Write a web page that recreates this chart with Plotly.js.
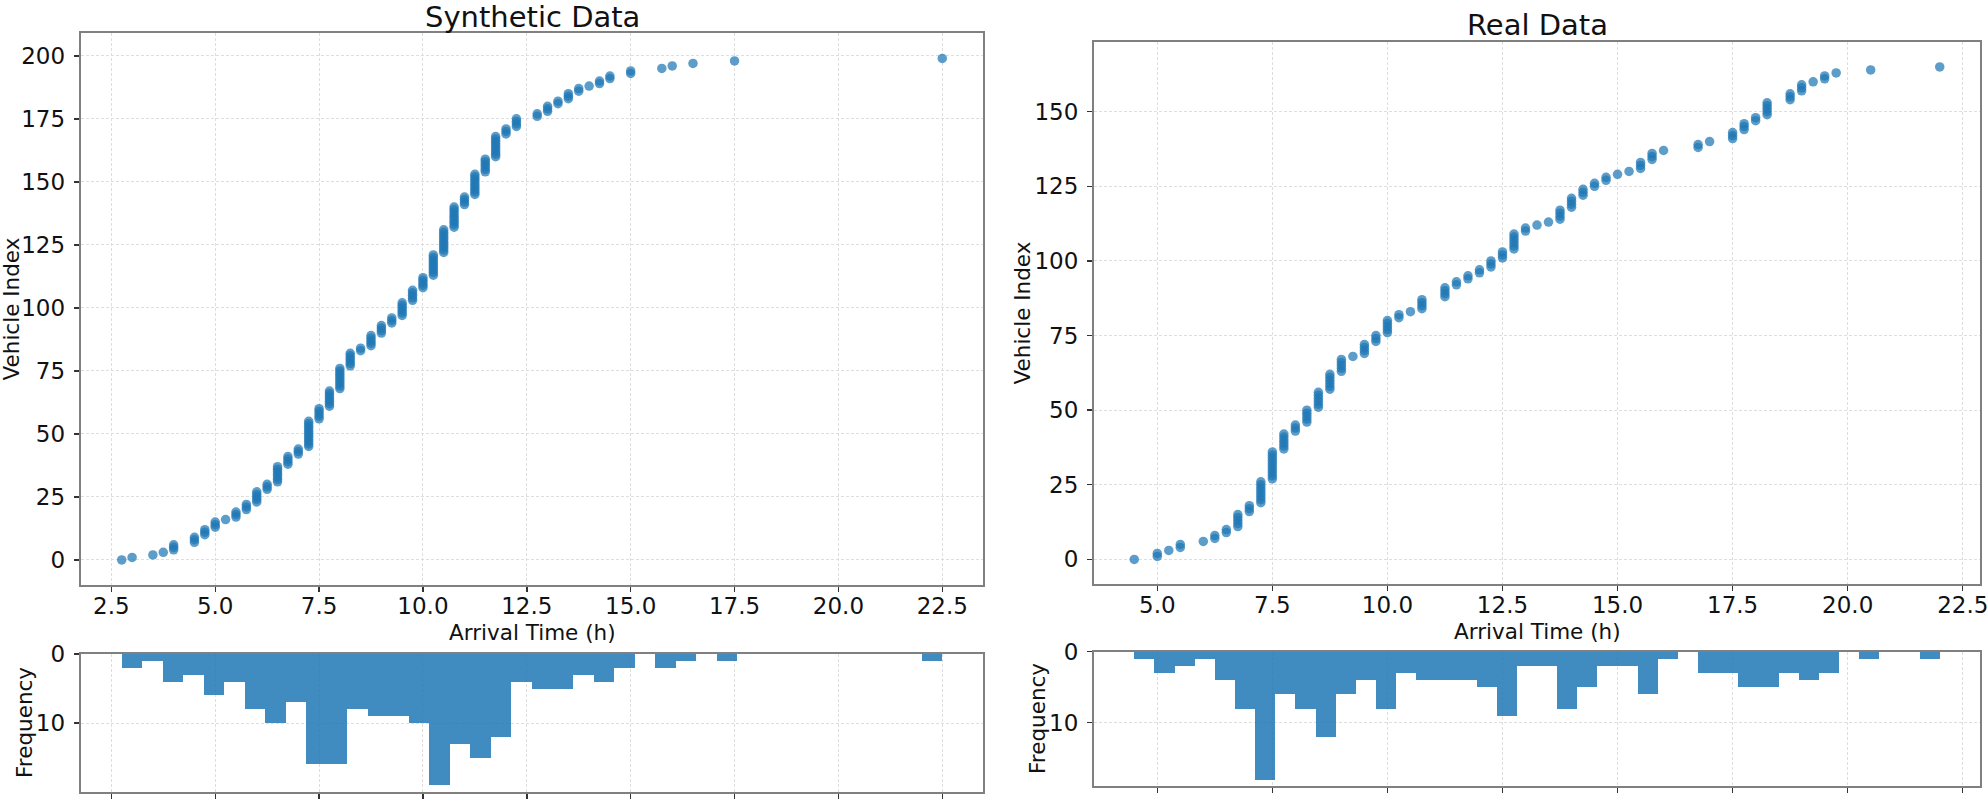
<!DOCTYPE html>
<html><head><meta charset="utf-8">
<script src="https://cdn.plot.ly/plotly-3.0.1.min.js"></script>
<style>html,body{margin:0;padding:0;background:#fff}#chart{width:1988px;height:806px}</style>
</head><body><div id="chart"></div>
<script>
// ---- data ----
// distinct arrival times (h) and how many vehicles arrive at each
const synthTimes  = [2.75,3.0,3.5,3.75,4.0,4.5,4.75,5.0,5.25,5.5,5.75,6.0,6.25,6.5,6.75,7.0,7.25,7.5,7.75,8.0,
                     8.25,8.5,8.75,9.0,9.25,9.5,9.75,10.0,10.25,10.5,10.75,11.0,11.25,11.5,11.75,12.0,12.25,12.75,13.0,13.25,
                     13.5,13.75,14.0,14.25,14.5,15.0,15.75,16.0,16.5,17.5,22.5];
const synthCounts = [1,1,1,1,3,3,3,3,1,3,3,5,3,7,4,3,11,5,7,9,
                     6,2,5,4,3,6,5,5,9,10,9,4,9,6,9,3,4,2,3,2,
                     3,2,1,2,2,2,1,1,1,1,1];
const realTimes   = [4.5,5.0,5.25,5.5,6.0,6.25,6.5,6.75,7.0,7.25,7.5,7.75,8.0,8.25,8.5,8.75,9.0,9.25,9.5,9.75,
                     10.0,10.25,10.5,10.75,11.25,11.5,11.75,12.0,12.25,12.5,12.75,13.0,13.25,13.5,13.75,14.0,14.25,14.5,14.75,15.0,
                     15.25,15.5,15.75,16.0,16.75,17.0,17.5,17.75,18.0,18.25,18.75,19.0,19.25,19.5,19.75,20.5,22.0];
const realCounts  = [1,2,1,2,1,2,2,5,3,8,10,6,3,5,6,6,5,1,4,3,
                     5,2,1,4,4,2,2,2,3,3,6,2,1,1,4,4,3,2,2,1,
                     1,3,3,1,2,1,3,3,2,5,3,3,1,2,1,1,1];
const nBins = 40;
const titles = ["Synthetic Data", "Real Data"];
const xLabel = "Arrival Time (h)";
const yLabel = "Vehicle Index";
const hLabel = "Frequency";

// ---- helpers ----
function expand(times, counts){
  const x = [], y = []; let i = 0;
  times.forEach((t,k)=>{ for(let c=0;c<counts[k];c++){ x.push(t); y.push(i++); } });
  return {x, y};
}
function histogram(x, n){
  const mn = Math.min(...x), mx = Math.max(...x), w = (mx-mn)/n;
  const c = new Array(n).fill(0);
  x.forEach(v=>{ let b = Math.floor((v-mn)/w); if(b>=n) b = n-1; c[b]++; });
  return {centers: c.map((_,i)=>mn+(i+0.5)*w), counts: c, w, mn, mx};
}
function padRange(mn, mx){ const m = (mx-mn)*0.05; return [mn-m, mx+m]; }

const S = expand(synthTimes, synthCounts);
const R = expand(realTimes, realCounts);
const HS = histogram(S.x, nBins);
const HR = histogram(R.x, nBins);

const FONT = 'DejaVu Sans, Liberation Sans, sans-serif';
const TXT = '#111111';
const markerColor = 'rgba(31,119,180,0.72)';
const barColor = 'rgba(31,119,180,0.85)';

function baseAxis(extra){
  return Object.assign({
    showline: true, mirror: true, linecolor: '#808080', linewidth: 2,
    ticks: 'outside', ticklen: 5, tickwidth: 1.4, tickcolor: '#333',
    showgrid: true, gridcolor: '#dadada', gridwidth: 0.9, griddash: '3px,2px',
    zeroline: false, tickfont: {family: FONT, size: 23, color: TXT},
    ticklabelstandoff: 4, ticklabeloverflow: 'allow'
  }, extra);
}

const traces = [
  {type:'scatter', mode:'markers', x:S.x, y:S.y, xaxis:'x', yaxis:'y',
   marker:{size:9.5, color:markerColor, line:{width:0}}, hoverinfo:'x+y'},
  {type:'bar', x:HS.centers, y:HS.counts, width:HS.w, xaxis:'x2', yaxis:'y2',
   marker:{color:barColor, line:{width:0}}},
  {type:'scatter', mode:'markers', x:R.x, y:R.y, xaxis:'x3', yaxis:'y3',
   marker:{size:9.5, color:markerColor, line:{width:0}}, hoverinfo:'x+y'},
  {type:'bar', x:HR.centers, y:HR.counts, width:HR.w, xaxis:'x4', yaxis:'y4',
   marker:{color:barColor, line:{width:0}}}
];

const sxr = padRange(HS.mn, HS.mx), rxr = padRange(HR.mn, HR.mx);
const syr = padRange(0, S.y.length-1), ryr = padRange(0, R.y.length-1);
const shMax = Math.max(...HS.counts)*1.05, rhMax = Math.max(...HR.counts)*1.05;

const W = 1988, H = 806;
const dom = {
  sx:[80.7/W, 983.3/W], sy:[1-585/H, 1-33.3/H], shy:[1-791.7/H, 1-654/H],
  rx:[1094/W, 1980/W],  ry:[1-584/H, 1-42.3/H], rhy:[1-786/H, 1-651.7/H]
};
function note(text, xpx, ypx, angle, size){
  return {text, xref:'paper', yref:'paper', x:xpx/W, y:1-ypx/H, xanchor:'center', yanchor:'middle',
          showarrow:false, textangle:angle||0, font:{family:FONT, size:size||21.5, color:TXT}};
}

const layout = {
  width:W, height:H, margin:{l:0,r:0,t:0,b:0},
  paper_bgcolor:'#fff', plot_bgcolor:'#fff', showlegend:false, bargap:0,
  font:{family:FONT, color:TXT},
  xaxis: baseAxis({domain:dom.sx, range:sxr, dtick:2.5, tick0:0, tickformat:'.1f', anchor:'y', ticklabelstandoff:-6}),
  yaxis: baseAxis({domain:dom.sy, range:syr, dtick:25, tick0:0, anchor:'x'}),
  xaxis2: baseAxis({domain:dom.sx, range:sxr, dtick:2.5, tick0:0, showticklabels:false, anchor:'y2'}),
  yaxis2: baseAxis({domain:dom.shy, range:[shMax,0], dtick:10, tick0:0, anchor:'x2'}),
  xaxis3: baseAxis({domain:dom.rx, range:rxr, dtick:2.5, tick0:0, tickformat:'.1f', anchor:'y3', ticklabelstandoff:-6}),
  yaxis3: baseAxis({domain:dom.ry, range:ryr, dtick:25, tick0:0, anchor:'x3'}),
  xaxis4: baseAxis({domain:dom.rx, range:rxr, dtick:2.5, tick0:0, showticklabels:false, anchor:'y4'}),
  yaxis4: baseAxis({domain:dom.rhy, range:[rhMax,0], dtick:10, tick0:0, anchor:'x4'}),
  annotations:[
    note(titles[0], 532, 16.5, 0, 29),
    note(titles[1], 1537, 25, 0, 29),
    note(xLabel, 532, 632.5),
    note(xLabel, 1537, 631.5),
    note(yLabel, 10.5, 309, -90),
    note(yLabel, 1022.5, 313, -90),
    note(hLabel, 24, 723, -90),
    note(hLabel, 1037, 719, -90)
  ]
};

Plotly.newPlot('chart', traces, layout, {staticPlot:true, displayModeBar:false});
</script>
</body></html>
